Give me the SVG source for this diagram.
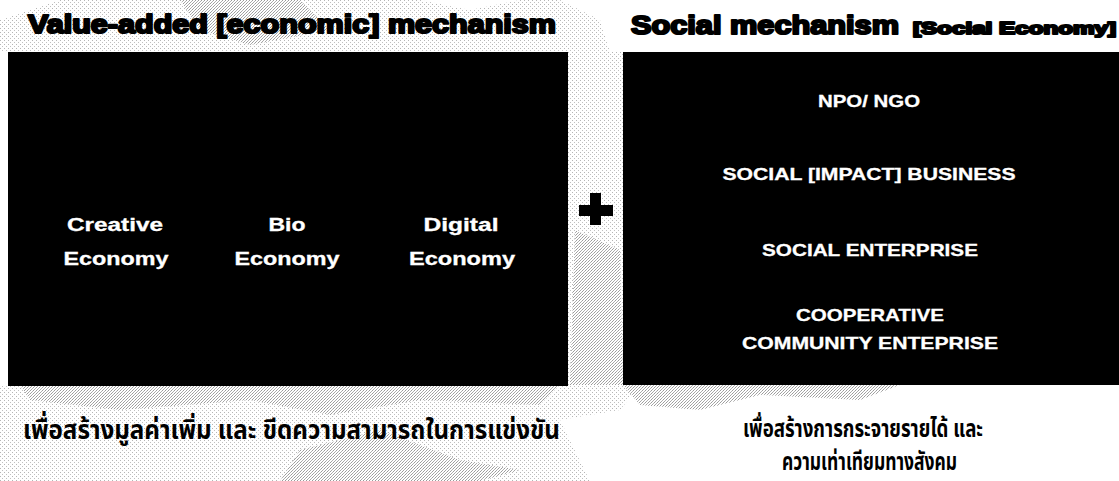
<svg xmlns="http://www.w3.org/2000/svg" width="1119" height="481" viewBox="0 0 1119 481">
  <defs>
    <pattern id="dither" width="3" height="3" patternUnits="userSpaceOnUse">
      <rect width="3" height="3" fill="#ffffff"/>
      <rect x="0" y="0" width="1" height="1" fill="#9a9a9a"/>
      <rect x="2" y="1" width="1" height="1" fill="#b0b0b0"/>
      <rect x="1" y="2" width="1" height="1" fill="#a5a5a5"/>
    </pattern>
    <pattern id="dither2" width="4" height="4" patternUnits="userSpaceOnUse">
      <rect width="4" height="4" fill="#ffffff"/>
      <rect x="0" y="0" width="1" height="1" fill="#b5b5b5"/>
      <rect x="2" y="2" width="1" height="1" fill="#c0c0c0"/>
    </pattern>
  </defs>
  <style>
    .title { font-family: "Liberation Sans", Arial, sans-serif; font-weight: 700; fill: #000; stroke: #000; stroke-width: 2.2; stroke-linejoin: round; }
    .box { fill: #000; }
    .in { font-family: "Liberation Sans", Arial, sans-serif; font-weight: 700; fill: #fff; text-anchor: middle; stroke: #fff; stroke-width: 0.3; }
    .in18 { font-size: 18px; }
    .in17 { font-size: 16.5px; }
    .thai { font-family: "Noto Sans Thai", "Noto Sans", "DejaVu Sans", sans-serif; font-weight: 700; fill: #000; }
  </style>

  <rect width="1119" height="481" fill="#ffffff"/>
  <g id="background-texture">
    <path d="M60 0 L420 0 L470 10 L520 0 L560 0 L600 20 L610 52 L0 52 L0 20 Z" fill="url(#dither2)"/>
    <path d="M180 0 L300 0 L330 30 L250 45 L200 30 Z" fill="url(#dither)"/>
    <path d="M568 52 L623 52 L623 385 L568 385 Z" fill="url(#dither2)"/>
    <path d="M575 230 L620 250 L623 385 L570 385 Z" fill="url(#dither)"/>
    <path d="M0 385 L640 385 L620 410 L560 420 L590 481 L0 481 Z" fill="url(#dither2)"/>
    <path d="M20 385 L560 385 L540 405 L420 400 L330 415 L250 400 L120 410 L30 400 Z" fill="url(#dither)"/>
    <path d="M300 450 L380 430 L460 460 L520 470 L480 481 L280 481 Z" fill="url(#dither)"/>
    <path d="M623 385 L900 385 L860 400 L760 395 L700 410 L640 405 Z" fill="url(#dither)"/>
  </g>

  <g id="title-left">
    <text class="title" x="28" y="33" font-size="26" textLength="528" lengthAdjust="spacingAndGlyphs">Value-added [economic] mechanism</text>
  </g>
  <g id="title-right">
    <text class="title" x="631" y="34" font-size="26" textLength="268" lengthAdjust="spacingAndGlyphs">Social mechanism</text>
    <text class="title" x="913" y="34" font-size="17" stroke-width="1.4" textLength="203" lengthAdjust="spacingAndGlyphs">[Social Economy]</text>
  </g>

  <g id="node-value-added">
    <rect class="box" x="8" y="52" width="560" height="334"/>
    <text class="in in18" x="115" y="231" textLength="96" lengthAdjust="spacingAndGlyphs">Creative</text>
    <text class="in in18" x="116" y="265" textLength="105" lengthAdjust="spacingAndGlyphs">Economy</text>
    <text class="in in18" x="287" y="231" textLength="37" lengthAdjust="spacingAndGlyphs">Bio</text>
    <text class="in in18" x="287" y="265" textLength="105" lengthAdjust="spacingAndGlyphs">Economy</text>
    <text class="in in18" x="461" y="231" textLength="75" lengthAdjust="spacingAndGlyphs">Digital</text>
    <text class="in in18" x="462" y="265" textLength="106" lengthAdjust="spacingAndGlyphs">Economy</text>
  </g>

  <g id="node-social">
    <rect class="box" x="623" y="52" width="496" height="333"/>
    <text class="in in17" x="869" y="107" textLength="102" lengthAdjust="spacingAndGlyphs">NPO/ NGO</text>
    <text class="in in17" x="869" y="180" textLength="293" lengthAdjust="spacingAndGlyphs">SOCIAL [IMPACT] BUSINESS</text>
    <text class="in in17" x="870" y="256" textLength="216" lengthAdjust="spacingAndGlyphs">SOCIAL ENTERPRISE</text>
    <text class="in in17" x="870" y="321" textLength="148" lengthAdjust="spacingAndGlyphs">COOPERATIVE</text>
    <text class="in in17" x="870" y="349" textLength="256" lengthAdjust="spacingAndGlyphs">COMMUNITY ENTEPRISE</text>
  </g>

  <g id="connectors">
    <path d="M590 193 H601 V205 H613 V216 H601 V225 H590 V216 H579 V205 H590 Z" fill="#000"/>
  </g>

  <g id="caption-left">
    <text class="thai" x="23" y="439" font-size="27" textLength="537" lengthAdjust="spacingAndGlyphs">เพื่อสร้างมูลค่าเพิ่ม และ ขีดความสามารถในการแข่งขัน</text>
  </g>
  <g id="caption-right">
    <text class="thai" x="743" y="437" font-size="24" textLength="240" lengthAdjust="spacingAndGlyphs">เพื่อสร้างการกระจายรายได้ และ</text>
    <text class="thai" x="782" y="470" font-size="24" textLength="175" lengthAdjust="spacingAndGlyphs">ความเท่าเทียมทางสังคม</text>
  </g>
</svg>
